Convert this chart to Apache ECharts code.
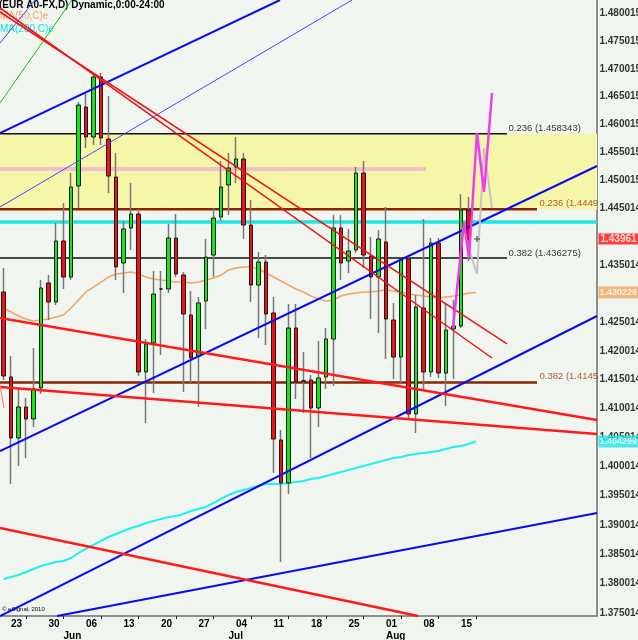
<!DOCTYPE html>
<html>
<head>
<meta charset="utf-8">
<script src="https://cdn.jsdelivr.net/npm/echarts@6/dist/echarts.min.js"></script>
<style>
  html, body { margin: 0; padding: 0; background: #f0f5f0; }
  #chart { width: 638px; height: 640px; }
</style>
</head>
<body>
<div id="chart"></div>
<script>
// daily bars, index 0 = Fri 20 May ... index 62 = Tue 16 Aug
const opens = [1.43030,1.41546,1.40490,1.41026,1.40818,1.41355,1.43188,1.42854,1.43927,1.43293,
  1.44902,1.46313,1.45776,1.46853,1.45740,1.45062,1.43539,1.44157,1.44405,1.41633,
  1.42137,1.43082,1.43082,1.43980,1.43328,1.42627,1.41911,1.42872,1.43680,1.44352,
  1.44920,1.45240,1.45383,1.44210,1.43152,1.43557,1.42662,1.40456,1.39717,1.42399,
  1.41476,1.41494,1.41008,1.41546,1.42207,1.44157,1.43575,1.43769,1.45133,1.43663,
  1.43293,1.43910,1.42539,1.41893,1.43610,1.40905,1.42749,1.41633,1.43892,1.41615,
  1.42382,1.42434,1.44476];
const closes = [1.41563,1.40490,1.41026,1.40818,1.41338,1.43100,1.42854,1.43927,1.43293,1.44884,
  1.46349,1.45776,1.46853,1.45758,1.45080,1.43469,1.44140,1.44405,1.41633,1.42120,
  1.42994,1.43082,1.43980,1.43346,1.42644,1.41876,1.42837,1.43645,1.44334,1.44884,
  1.45222,1.45383,1.44210,1.43152,1.43557,1.42644,1.40473,1.39717,1.42399,1.41459,
  1.41476,1.41008,1.41528,1.42207,1.44157,1.43539,1.43751,1.45133,1.43680,1.43293,
  1.43963,1.42557,1.41893,1.43610,1.40905,1.42767,1.41633,1.43892,1.41615,1.42364,
  1.42434,1.44476,1.43961];
const lows = [1.41494,1.39700,1.40009,1.40146,1.40680,1.41251,1.42539,1.42802,1.43082,1.43240,
  1.44511,1.45579,1.45633,1.45633,1.44778,1.43240,1.43012,1.43769,1.41563,1.40749,
  1.41268,1.41928,1.43012,1.43293,1.41285,1.41442,1.41026,1.42382,1.43293,1.44281,
  1.44387,1.44955,1.43963,1.42854,1.42225,1.42102,1.39889,1.38369,1.39529,1.41164,
  1.40922,1.40146,1.40680,1.41338,1.41389,1.43240,1.43363,1.43716,1.43451,1.42557,
  1.42312,1.41859,1.41511,1.41442,1.40836,1.40577,1.41320,1.41546,1.41528,1.41043,
  1.41511,1.42399,1.43575];
const highs = [1.43451,1.41911,1.41355,1.41182,1.42050,1.43240,1.43328,1.44246,1.44600,1.45133,
  1.46403,1.46583,1.46907,1.46925,1.46511,1.45490,1.44281,1.44955,1.44494,1.42207,
  1.43399,1.43399,1.44228,1.44405,1.43381,1.43047,1.42942,1.43963,1.44511,1.45347,
  1.45490,1.45776,1.45490,1.44653,1.43733,1.43680,1.42942,1.40628,1.42819,1.42819,
  1.41980,1.41580,1.42172,1.42399,1.44387,1.44387,1.44140,1.45240,1.45347,1.43998,
  1.44122,1.44529,1.42837,1.43628,1.43645,1.42977,1.44316,1.43980,1.43980,1.42837,
  1.42889,1.44760,1.44707];

// MA(50,C)e and MA(200,C)e, one value per bar plus one step ahead
const ma50 = [1.42749,1.42679,1.42609,1.42557,1.42522,1.42539,1.42557,1.42592,1.42627,1.42749,
  1.42889,1.43030,1.43117,1.43205,1.43293,1.43346,1.43363,1.43381,1.43346,1.43293,
  1.43258,1.43240,1.43223,1.43205,1.43205,1.43188,1.43205,1.43240,1.43275,1.43328,
  1.43416,1.43451,1.43469,1.43469,1.43434,1.43363,1.43293,1.43223,1.43152,1.43082,
  1.43030,1.42959,1.42907,1.42872,1.42889,1.42959,1.42994,1.43012,1.43030,1.43030,
  1.43047,1.43065,1.43047,1.43030,1.42994,1.42977,1.42959,1.42942,1.42924,1.42942,
  1.42959,1.42977,1.43012,1.430226];
const ma200 = [1.38080,1.38114,1.38148,1.38199,1.38250,1.38301,1.38334,1.38369,1.38386,1.38437,
  1.38522,1.38590,1.38658,1.38726,1.38794,1.38845,1.38896,1.38947,1.38981,1.39033,
  1.39067,1.39101,1.39135,1.39152,1.39186,1.39237,1.39272,1.39306,1.39374,1.39443,
  1.39511,1.39562,1.39597,1.39631,1.39665,1.39700,1.39700,1.39700,1.39717,1.39734,
  1.39751,1.39785,1.39802,1.39837,1.39871,1.39905,1.39940,1.39974,1.40008,1.40043,
  1.40077,1.40111,1.40146,1.40163,1.40197,1.40215,1.40232,1.40249,1.40266,1.40301,
  1.40335,1.40352,1.40387,1.404299];

// axis labels
const dayTicks = [1, 6, 11, 16, 21, 26, 31, 36, 41, 46, 51, 56, 61];
const dayLabels = ['23', '30', '06', '13', '20', '27', '04', '11', '18', '25', '01', '08', '15'];
const weekTicks = [3, 8, 13, 18, 23, 28, 33, 38, 43, 48, 53, 58, 63];
const monthTicks = [8, 30, 51];
const monthLabels = ['Jun', 'Jul', 'Aug'];
const priceLabels = ['1.375014', '1.380014', '1.385014', '1.390014', '1.395014', '1.400014',
  '1.405014', '1.410014', '1.415014', '1.420014', '1.425014', '1.435014', '1.445014',
  '1.450015', '1.455015', '1.460015', '1.465015', '1.470015', '1.475015', '1.480015'];

// horizontal levels
const zoneLow = 1.4449, zoneHigh = 1.458343;
const pinkLevel = 1.45205;
const cyanLevel = 1.44263;
const fibBlack = [1.458343, 1.436275];
const fibBlackText = ['0.236 (1.458343)', '0.382 (1.436275)'];
const fibBrown = [1.4449, 1.4145];
const fibBrownText = ['0.236 (1.4449', '0.382 (1.4145'];

// hand-drawn trend lines, [bar index, price] end points
const greenLine = [[-0.4667, 1.46385], [9.133, 1.48247]];
const thinBlueLines = [
  [[-0.4667, 1.47467], [4.2, 1.48247]],
  [[-0.4667, 1.44529], [46.47, 1.48247]]
];
const blueLines = [
  [[-0.4667, 1.45847], [36.87, 1.48247]],
  [[-0.4667, 1.40266], [79.133, 1.45258]],
  [[-0.4667, 1.37455], [79.133, 1.42609]],
  [[7.133, 1.37455], [79.133, 1.39203]]
];
const redLines = [
  [[-0.4667, 1.42574], [79.133, 1.40801]],
  [[-0.4667, 1.41372], [79.133, 1.40559]],
  [[-0.4667, 1.38947], [55.27, 1.37455]]
];
const redPair = [
  [[-0.4667, 1.48029], [67.13, 1.42120]],
  [[-0.4667, 1.48102], [65.13, 1.41876]]
];
const redStub = [[-0.4667, 1.41407], [0.067, 1.41008]];

// projection paths past the last bar
const projMagenta = [[59.93, 1.42399], [61.4, 1.44263], [62.07, 1.43628], [63.13, 1.45847], [64.07, 1.44795], [65.13, 1.46565]];
const projGray = [[61.67, 1.43945], [63.13, 1.43346], [64.07, 1.45579], [65.13, 1.44511]];
const cursorMark = [[63.13, 1.43963]];

const xMin = -0.4667, xMax = 79.133, yMin = 1.37455, yMax = 1.48247;
const fibBlackEnd = 67.13, fibBrownEnd = 71.13, pinkEnd = 56.33;
const FONT = '"Liberation Sans", Arial, sans-serif';

const chart = echarts.init(document.getElementById('chart'));

const candles = opens.map((o, i) => [i, o, closes[i], lows[i], highs[i]]);
const bodies = opens.map((o, i) => [i, o, closes[i], Math.min(o, closes[i]), Math.max(o, closes[i])]);
const toXY = arr => arr.map((v, i) => [i, v]);
const flat = (level, x1, x2) => [[x1, level], [x2, level]];

function seg(points, color, width, z) {
  return {
    type: 'line', data: points, symbol: 'none', silent: true, z: z,
    lineStyle: { color: color, width: width }
  };
}

function labelSeries(points, texts, color, opts) {
  return {
    type: 'scatter', data: points, symbolSize: 1, silent: true, z: opts.z || 8,
    itemStyle: { color: 'rgba(0,0,0,0)' },
    label: Object.assign({
      show: true, position: 'right', distance: 2,
      formatter: p => texts[p.dataIndex],
      color: color, fontSize: 10, fontFamily: FONT
    }, opts.label || {})
  };
}

const series = [
  {
    type: 'line', data: flat(zoneLow, xMin, xMax), symbol: 'none', silent: true, z: 0,
    lineStyle: { width: 0, opacity: 0 },
    markArea: { silent: true, itemStyle: { color: '#f6f6a8' }, data: [[{ yAxis: zoneLow }, { yAxis: zoneHigh }]] }
  },
  seg(flat(pinkLevel, xMin, pinkEnd), '#f5bccb', 4, 2),
  seg(flat(cyanLevel, xMin, xMax), '#1ee6e6', 3.5, 2),
  ...fibBlack.map(v => seg(flat(v, xMin, fibBlackEnd), '#111', 1.5, 2)),
  ...fibBrown.map(v => seg(flat(v, xMin, fibBrownEnd), '#8b2500', 2.5, 2)),
  seg(toXY(ma50), '#f4a460', 1.5, 2),
  seg(toXY(ma200), '#1ef0f0', 2, 2),
  {
    type: 'candlestick', data: candles, barWidth: 1, silent: true, z: 3,
    itemStyle: { color: '#787878', color0: '#787878', borderColor: '#787878', borderColor0: '#787878', borderColorDoji: '#787878', borderWidth: 1.5 }
  },
  {
    type: 'candlestick', data: bodies, barWidth: 4, silent: true, z: 4,
    itemStyle: { color: '#12e812', color0: '#f01212', borderColor: '#1a1a1a', borderColor0: '#1a1a1a', borderColorDoji: '#000', borderWidth: 1 }
  },
  seg(greenLine, '#00d000', 1, 5),
  ...thinBlueLines.map(l => seg(l, '#4646ff', 1, 5)),
  ...blueLines.map(l => seg(l, '#0a0aee', 2, 5)),
  ...redLines.map(l => seg(l, '#ff1a1a', 2.5, 5)),
  ...redPair.map(l => seg(l, '#ee1515', 1.5, 5)),
  seg(redStub, '#ff7070', 1, 5),
  seg(projGray, '#c4c4c4', 2, 6),
  seg(projMagenta, '#f03cf0', 2.5, 6),
  {
    type: 'scatter', data: cursorMark, silent: true, z: 7,
    symbol: 'path://M4,0h2v10h-2zM0,4h10v2h-10z', symbolSize: 6, itemStyle: { color: '#222' }
  },
  labelSeries(fibBlack.map(v => [fibBlackEnd, v]), fibBlackText, '#000',
    { label: { distance: 1, offset: [0, -5], fontSize: 9.5 } }),
  labelSeries(fibBrown.map(v => [fibBrownEnd, v]), fibBrownText, '#993300',
    { label: { distance: 2, offset: [0, -6], fontSize: 9.5 } }),
  labelSeries(priceLabels.map(t => [xMax - 0.01, parseFloat(t)]), priceLabels, '#000',
    { label: { fontWeight: 'bold' } }),
  labelSeries([[xMax - 0.01, closes[closes.length - 1]]], ['1.43961'], '#fff',
    { z: 10, label: { fontWeight: 'bold', backgroundColor: '#ff1010', padding: [1, 3, 0, 2], distance: 1 } }),
  labelSeries([[xMax - 0.01, ma50[ma50.length - 1]]], ['1.430226'], '#fff',
    { z: 10, label: { fontWeight: 'bold', fontSize: 9, backgroundColor: '#f4a460', padding: [2, 1, 1, 1], distance: 1 } }),
  labelSeries([[xMax - 0.01, ma200[ma200.length - 1]]], ['1.404299'], '#fff',
    { z: 10, label: { fontWeight: 'bold', fontSize: 9, backgroundColor: '#1ee6e6', padding: [2, 1, 1, 1], distance: 1 } })
];

const option = {
  animation: false,
  backgroundColor: '#f0f5f0',
  grid: { left: 0, top: 0, right: 41, bottom: 24, containLabel: false, outerBoundsMode: 'none' },
  xAxis: [
    {
      type: 'value', min: xMin, max: xMax, position: 'bottom',
      splitLine: { show: false },
      axisLine: { show: true, onZero: false, lineStyle: { color: '#6e6e6e', width: 1.5 } },
      axisTick: { show: true, customValues: weekTicks, length: 3, lineStyle: { color: '#222' } },
      axisLabel: {
        show: true, customValues: dayTicks, formatter: v => dayLabels[dayTicks.indexOf(v)],
        align: 'left', margin: 3, color: '#000', fontSize: 10, fontWeight: 'bold', fontFamily: FONT
      }
    },
    {
      type: 'value', min: xMin, max: xMax, position: 'bottom', offset: 0,
      splitLine: { show: false }, axisLine: { show: false, onZero: false }, axisTick: { show: false },
      axisLabel: {
        show: true, customValues: monthTicks, formatter: v => monthLabels[monthTicks.indexOf(v)],
        align: 'left', margin: 15, color: '#000', fontSize: 10, fontWeight: 'bold', fontFamily: FONT
      }
    }
  ],
  yAxis: {
    type: 'log', logBase: 10, min: yMin, max: yMax, position: 'right',
    splitLine: { show: false }, minorSplitLine: { show: false },
    axisLine: { show: true, onZero: false, lineStyle: { color: '#6e6e6e', width: 1.5 } },
    axisTick: { show: false }, axisLabel: { show: false }
  },
  graphic: [
    { type: 'text', x: -1, y: 0, style: { text: '(EUR A0-FX,D) Dynamic,0:00-24:00', fill: '#000', font: 'bold 10px ' + FONT, verticalAlign: 'top' } },
    { type: 'text', x: 0, y: 11, style: { text: 'MA(50,C)e', fill: '#f4a460', font: '10px ' + FONT, verticalAlign: 'top' } },
    { type: 'text', x: 0, y: 24, style: { text: 'MA(200,C)e', fill: '#10dede', font: '10px ' + FONT, verticalAlign: 'top' } },
    { type: 'text', x: 2, y: 606, style: { text: '\u00a9 eSignal, 2010', fill: '#000', font: '6px ' + FONT, verticalAlign: 'top' } }
  ],
  series: series
};

chart.setOption(option);
</script>
</body>
</html>
